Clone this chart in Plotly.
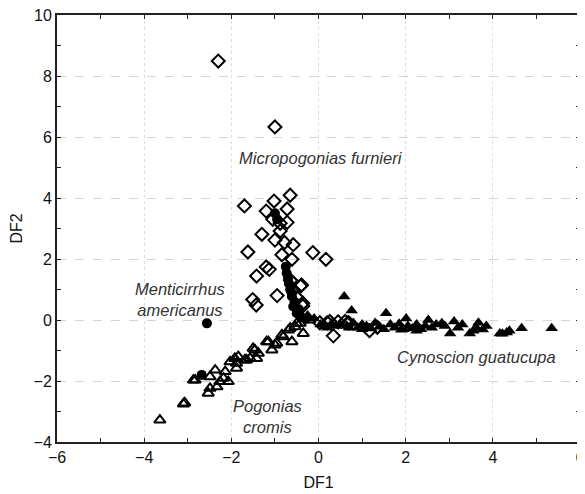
import plotly.graph_objects as go

# Micropogonias furnieri (open diamonds)
mf_x = [-2.30, -1.00, -1.70, -1.02, -0.65, -0.72, -1.20, -1.05, -0.88, -0.72, -0.88, -1.30, -1.00, -0.78,
        -0.58, -1.62, -0.84, -0.61, -0.13, 0.17, -1.20, -1.13, -1.42, -0.64, -0.41, -0.95, -1.51, -1.43,
        -0.49, -0.36, 0.34, 0.03, 0.20, 0.26, 0.61, 0.70, 1.17, 1.35, -0.39, -0.36, -0.58, -0.61, 0.68, 0.45]
mf_y = [8.49, 6.33, 3.74, 3.90, 4.09, 3.64, 3.57, 3.30, 3.17, 3.20, 2.92, 2.81, 2.62, 2.54,
        2.47, 2.23, 2.14, 1.99, 2.21, 1.99, 1.74, 1.66, 1.44, 1.29, 1.11, 0.80, 0.67, 0.49,
        0.73, 0.46, -0.52, -0.09, -0.09, -0.05, -0.05, -0.10, -0.35, -0.24, 1.15, 0.55, 0.98, 1.26, -0.09, -0.06]

# Menticirrhus americanus (filled circles)
ma_x = [-2.56, -2.68, -1.00, -0.95, -0.75, -0.73, -0.70, -0.65, -0.61, -0.58, -0.55, -0.50, -0.45, -0.40, -0.30, -0.62, -0.68]
ma_y = [-0.11, -1.80, 3.50, 3.30, 1.75, 1.53, 1.35, 1.00, 0.77, 0.44, 0.60, 0.22, 0.35, 0.10, 0.03, 0.90, 1.20]

# Cynoscion guatucupa (filled triangles)
cg_x = [0.59, 0.76, 1.55, 2.01, 2.52, 2.83, 3.11, 3.02, 3.67, 3.47, 3.77, 4.16, 4.32, 4.66, 5.35,
        0.05, 0.15, 0.30, 0.40, 0.50, 0.65, 0.80, 0.90, 1.00, 1.10, 1.20, 1.30, 1.40, 1.50, 1.65,
        1.75, 1.85, 1.95, 2.05, 2.15, 2.25, 2.35, 2.45, 2.60, 2.70, 2.90, 3.20, 3.30, 3.55, 3.62,
        3.85, 4.22, 4.38, 2.25, 1.90, 1.00, 0.70, 0.20, -0.10, -0.25]
cg_y = [0.77, 0.31, 0.22, 0.05, 0.00, -0.11, -0.05, -0.44, -0.09, -0.44, -0.31, -0.44, -0.41, -0.27, -0.27,
        -0.15, -0.20, -0.12, -0.20, -0.15, -0.20, -0.10, -0.25, -0.15, -0.20, -0.28, -0.10, -0.22, -0.30, -0.15,
        -0.25, -0.12, -0.30, -0.20, -0.28, -0.15, -0.30, -0.20, -0.25, -0.15, -0.20, -0.25, -0.15, -0.35, -0.25,
        -0.20, -0.45, -0.35, -0.35, -0.32, -0.30, -0.25, -0.25, 0.05, 0.15]

# Pogonias cromis (open triangles)
pc_x = [-3.64, -3.10, -3.07, -2.87, -2.49, -2.53, -2.37, -2.26, -2.14, -2.07, -1.92, -1.88, -1.65, -1.46,
        -1.42, -1.19, -1.07, -0.96, -0.81, -0.69, -0.54, -0.42, -0.35, -0.61, -0.20, -2.83, -2.49, -2.18,
        -2.03, -1.84, -1.69, -1.50, -1.38, -1.15, -1.00, -0.84, -0.65, -0.50, -2.33, -1.57, -1.88]
pc_y = [-3.28, -2.75, -2.72, -1.97, -2.24, -2.40, -1.64, -2.02, -1.69, -2.02, -1.26, -1.58, -1.31, -0.98,
        -1.26, -0.71, -0.98, -0.76, -0.55, -0.33, -0.22, -0.11, -0.44, -0.71, 0.00, -1.97, -1.86, -1.91,
        -1.37, -1.20, -1.31, -0.93, -1.09, -0.71, -0.82, -0.49, -0.27, -0.11, -2.19, -1.26, -1.42]

labels = ["Micropogonias furnieri", "Menticirrhus<br>americanus", "Cynoscion guatucupa", "Pogonias<br>cromis"]
label_x = [0.06, -3.18, 3.63, -1.16]
label_y = [5.31, 0.66, -1.21, -3.15]

FONT = "Liberation Sans, Arial"

fig = go.Figure()
fig.add_trace(go.Scatter(x=pc_x, y=pc_y, mode="markers",
                         marker=dict(symbol="triangle-up-open", size=10, color="black", line=dict(width=2, color="black"))))
fig.add_trace(go.Scatter(x=cg_x, y=cg_y, mode="markers",
                         marker=dict(symbol="triangle-up", size=11, color="black", line=dict(width=0))))
fig.add_trace(go.Scatter(x=ma_x, y=ma_y, mode="markers",
                         marker=dict(symbol="circle", size=10, color="black", line=dict(width=0))))
fig.add_trace(go.Scatter(x=mf_x, y=mf_y, mode="markers",
                         marker=dict(symbol="diamond-open", size=10, color="black", line=dict(width=2, color="black"))))

for t, lx, ly in zip(labels, label_x, label_y):
    fig.add_annotation(x=lx, y=ly, text="<i>" + t + "</i>", showarrow=False,
                       font=dict(family=FONT, size=16.5, color="#333333"))

axis_common = dict(showline=True, linecolor="#222222", linewidth=2, mirror="allticks",
                   ticks="inside", ticklen=4, tickcolor="#222222", zeroline=False,
                   ticklabeloverflow="allow", automargin=False,
                   tickfont=dict(family=FONT, size=16, color="#111111"),
                   minor=dict(dtick=1, ticks="inside", ticklen=4, tickcolor="#222222"))
fig.update_xaxes(range=[-6, 6], dtick=2, gridcolor="#dddddd", griddash="dot", gridwidth=1,
                 title=dict(text="DF1", font=dict(family=FONT, size=16, color="#111111"), standoff=12),
                 **axis_common)
fig.update_yaxes(range=[-4, 10], dtick=2, gridcolor="#d4d4d4", griddash="dash", gridwidth=1,
                 title=dict(text="DF2", font=dict(family=FONT, size=16, color="#111111"), standoff=10),
                 **axis_common)
# page body adds an 8px margin, so the figure is sized to sit inside it
fig.update_layout(width=577, height=486, showlegend=False, plot_bgcolor="white", paper_bgcolor="white",
                  margin=dict(l=49, r=5, t=7, b=52))
fig.write_html("out.html")
